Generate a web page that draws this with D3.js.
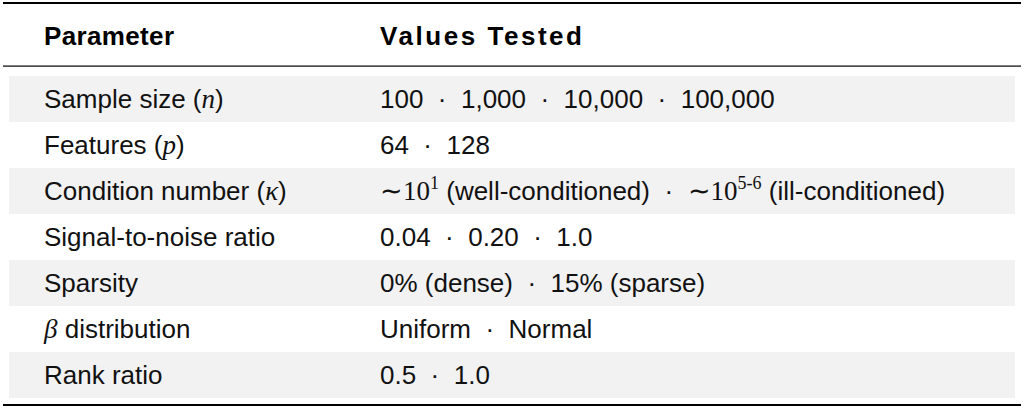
<!DOCTYPE html>
<html><head><meta charset="utf-8">
<script src="https://cdn.jsdelivr.net/npm/d3@7"></script>
<style>body{margin:0;background:#fff}</style></head>
<body><svg id="c" width="1024" height="411"></svg>
<script>
const headers = ["Parameter", "Values Tested"];
// segments: [text, style] ; t=text, m=math italic, r=math roman, s=superscript, d=separator
const params = [
  [["Sample size (", "t"], ["n", "m"], [")", "t"]],
  [["Features (", "t"], ["p", "m"], [")", "t"]],
  [["Condition number (", "t"], ["κ", "m"], [")", "t"]],
  [["Signal-to-noise ratio", "t"]],
  [["Sparsity", "t"]],
  [["β", "m"], [" distribution", "t"]],
  [["Rank ratio", "t"]]
];
const values = [
  [["100", "t"], ["·", "d"], ["1,000", "t"], ["·", "d"], ["10,000", "t"], ["·", "d"], ["100,000", "t"]],
  [["64", "t"], ["·", "d"], ["128", "t"]],
  [["∼", "r"], ["10", "r"], ["1", "s"], [" (well-conditioned)", "t"], ["·", "d"], ["∼", "r"], ["10", "r"], ["5-6", "s"], [" (ill-conditioned)", "t"]],
  [["0.04", "t"], ["·", "d"], ["0.20", "t"], ["·", "d"], ["1.0", "t"]],
  [["0% (dense)", "t"], ["·", "d"], ["15% (sparse)", "t"]],
  [["Uniform", "t"], ["·", "d"], ["Normal", "t"]],
  [["0.5", "t"], ["·", "d"], ["1.0", "t"]]
];
const FS = 26;
const svg = d3.select("#c");
const rows = d3.range(params.length);
const y = d3.scaleBand().domain(rows).range([76, 398]);
const x0 = 3, x1 = 1021, cx = [44, 380];
svg.selectAll("rect.band").data(rows.filter(i => i % 2 === 0)).join("rect")
  .attr("x", x0 + 6).attr("width", x1 - x0 - 12).attr("y", d => y(d)).attr("height", y.bandwidth())
  .attr("fill", "#f2f2f2");
svg.append("rect").attr("x", x0).attr("y", 2).attr("width", x1 - x0).attr("height", 2).attr("fill", "#000");
svg.append("rect").attr("x", x0).attr("y", 65.5).attr("width", x1 - x0).attr("height", 1.2).attr("fill", "#000");
svg.append("rect").attr("x", x0).attr("y", 404).attr("width", x1 - x0).attr("height", 2).attr("fill", "#000");
headers.forEach((h, i) => svg.append("text").attr("x", cx[i]).attr("y", 45)
  .attr("font-family", "Liberation Sans, Arial, sans-serif").attr("font-weight", "bold")
  .attr("font-size", FS).attr("textLength", i === 0 ? 130 : 202).text(h));
function draw(segs, xx, yy) {
  const t = svg.append("text").attr("x", xx).attr("y", yy).attr("xml:space", "preserve")
    .attr("font-family", "Liberation Sans, Arial, sans-serif").attr("font-size", FS).attr("fill", "#111");
  let raised = false;
  segs.forEach(([s, k]) => {
    const ts = t.append("tspan");
    if (raised && k !== "s") { ts.attr("dy", 11); raised = false; }
    if (k === "m") ts.attr("font-family", "Liberation Serif, serif").attr("font-style", "italic").attr("font-size", FS + 1).text(s);
    else if (k === "r") ts.attr("font-family", "Liberation Serif, serif").attr("font-size", FS + 1).text(s);
    else if (k === "s") { ts.attr("font-family", "Liberation Serif, serif").attr("font-size", 18).attr("dy", -11).text(s); raised = true; }
    else if (k === "d") ts.text("  ·  ");
    else ts.text(s);
  });
}
rows.forEach(i => {
  const yy = y(i) + y.bandwidth() / 2 + 9;
  draw(params[i], cx[0], yy);
  draw(values[i], cx[1], yy);
});
</script></body></html>
